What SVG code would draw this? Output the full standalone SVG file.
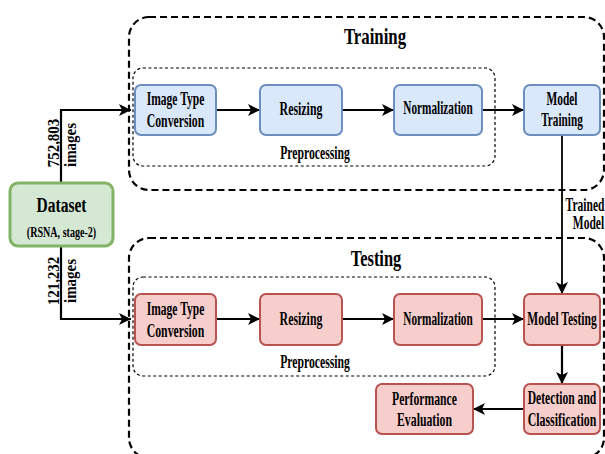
<svg xmlns="http://www.w3.org/2000/svg" width="605" height="454" viewBox="0 0 605 454">
<defs>
<style>
.t{font-family:"Liberation Serif","Times New Roman",serif;font-weight:bold;font-size:18px;fill:#000;text-anchor:middle;dominant-baseline:central}
.s{font-family:"Liberation Serif","Times New Roman",serif;font-weight:bold;font-size:17px;fill:#000;text-anchor:middle;dominant-baseline:central}
.blue{fill:#dae8fc;stroke:#6c8ebf;stroke-width:2}
.red{fill:#f8cecc;stroke:#b85450;stroke-width:2}
.green{fill:#d5e8d4;stroke:#82b366;stroke-width:3}
.outer{fill:none;stroke:#000;stroke-width:2.2;stroke-dasharray:7 4}
.inner{fill:none;stroke:#000;stroke-width:1.2;stroke-dasharray:3 2.5}
.c{fill:none;stroke:#000;stroke-width:2.2;marker-end:url(#ah)}
</style>
<marker id="ah" markerUnits="userSpaceOnUse" markerWidth="14" markerHeight="14" refX="12" refY="6" orient="auto" viewBox="0 0 14 14">
<path d="M0,0 L12,6 L0,12 L3,6 z" fill="#000"/>
</marker>
</defs>
<rect width="605" height="454" fill="#fff"/>

<g id="training-group">
<rect class="outer" x="129" y="17" width="475" height="173" rx="20"/>
<text class="t" transform="translate(375,36) scale(0.7,1)" style="font-size:24px">Training</text>
</g>
<g id="training-preprocessing">
<rect class="inner" x="133" y="68" width="362" height="98" rx="10"/>
<text class="t" transform="translate(315,152) scale(0.65,1)">Preprocessing</text>
</g>
<g id="testing-group">
<rect class="outer" x="129" y="238" width="475" height="220" rx="20"/>
<text class="t" transform="translate(376,258) scale(0.684,1)" style="font-size:24px">Testing</text>
</g>
<g id="testing-preprocessing">
<rect class="inner" x="133" y="277" width="362" height="99" rx="10"/>
<text class="t" transform="translate(315,361) scale(0.65,1)">Preprocessing</text>
</g>

<g id="connectors">
<polyline class="c" points="61,183 61,110 131,110"/>
<line class="c" x1="216" y1="110" x2="260" y2="110"/>
<line class="c" x1="342" y1="110" x2="394" y2="110"/>
<line class="c" x1="482" y1="110" x2="524" y2="110"/>
<line class="c" x1="562" y1="135" x2="562" y2="294" style="stroke-width:1.8"/>
<polyline class="c" points="61,246 61,319 131,319"/>
<line class="c" x1="216" y1="319" x2="260" y2="319"/>
<line class="c" x1="342" y1="319" x2="394" y2="319"/>
<line class="c" x1="482" y1="319" x2="524" y2="319"/>
<line class="c" x1="562" y1="345" x2="562" y2="384"/>
<line class="c" x1="523" y1="409" x2="473" y2="409"/>
<text class="s" transform="translate(53.5,143) rotate(-90) scale(0.88,1)">752,803</text>
<text class="s" transform="translate(70,145) rotate(-90) scale(0.88,1)">images</text>
<text class="s" transform="translate(53.5,281) rotate(-90) scale(0.88,1)">121,232</text>
<text class="s" transform="translate(70,281) rotate(-90) scale(0.88,1)">images</text>
<text class="t" transform="translate(585,205) scale(0.64,1)">Trained</text>
<text class="t" transform="translate(588.5,223) scale(0.64,1)">Model</text>
</g>

<g id="dataset">
<rect class="green" x="10" y="183" width="103" height="63" rx="8"/>
<text class="t" transform="translate(61.5,205) scale(0.74,1)" style="font-size:21px">Dataset</text>
<text class="t" transform="translate(61.5,232) scale(0.72,1)" style="font-size:14px">(RSNA, stage-2)</text>
</g>

<g id="train-itc">
<rect class="blue" x="135" y="85" width="81" height="50" rx="6"/>
<text class="t" transform="translate(175.5,99) scale(0.64,1)">Image Type</text>
<text class="t" transform="translate(175.5,120) scale(0.655,1)">Conversion</text>
</g>
<g id="train-resizing">
<rect class="blue" x="260" y="85" width="82" height="50" rx="6"/>
<text class="t" transform="translate(301,109) scale(0.66,1)">Resizing</text>
</g>
<g id="train-normalization">
<rect class="blue" x="394" y="85" width="88" height="50" rx="6"/>
<text class="t" transform="translate(438,108.5) scale(0.625,1)">Normalization</text>
</g>
<g id="model-training">
<rect class="blue" x="524" y="85" width="76" height="50" rx="6"/>
<text class="t" transform="translate(562,99) scale(0.635,1)">Model</text>
<text class="t" transform="translate(562,120) scale(0.625,1)">Training</text>
</g>

<g id="test-itc">
<rect class="red" x="135" y="294" width="81" height="51" rx="6"/>
<text class="t" transform="translate(175.5,309) scale(0.64,1)">Image Type</text>
<text class="t" transform="translate(175.5,330) scale(0.655,1)">Conversion</text>
</g>
<g id="test-resizing">
<rect class="red" x="260" y="294" width="82" height="51" rx="6"/>
<text class="t" transform="translate(301,319) scale(0.66,1)">Resizing</text>
</g>
<g id="test-normalization">
<rect class="red" x="394" y="294" width="88" height="51" rx="6"/>
<text class="t" transform="translate(438,319) scale(0.625,1)">Normalization</text>
</g>
<g id="model-testing">
<rect class="red" x="524" y="294" width="76" height="51" rx="6"/>
<text class="t" transform="translate(562,319) scale(0.64,1)">Model Testing</text>
</g>
<g id="detection">
<rect class="red" x="524" y="384" width="76" height="50" rx="6"/>
<text class="t" transform="translate(562,398.5) scale(0.645,1)">Detection and</text>
<text class="t" transform="translate(562,419.5) scale(0.66,1)">Classification</text>
</g>
<g id="performance">
<rect class="red" x="376" y="384" width="97" height="50" rx="6"/>
<text class="t" transform="translate(424.5,398.5) scale(0.65,1)">Performance</text>
<text class="t" transform="translate(424.5,419.5) scale(0.655,1)">Evaluation</text>
</g>
</svg>
